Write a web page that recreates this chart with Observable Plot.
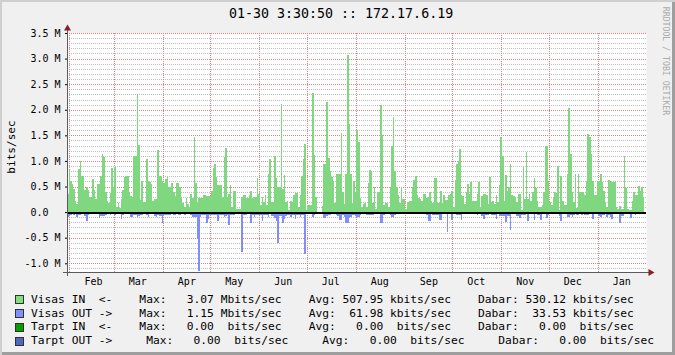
<!DOCTYPE html>
<html><head><meta charset="utf-8">
<script src="https://cdn.jsdelivr.net/npm/d3@7"></script>
<script src="https://cdn.jsdelivr.net/npm/@observablehq/plot@0.6"></script>
<style>
html,body{margin:0;padding:0;background:#F0F0F0;}
#wrap{position:relative;width:675px;height:355px;background:#F0F0F0;overflow:hidden;
  box-shadow: inset 2px 2px 0 #CFCFCF, inset -3px -3px 0 #9E9E9E;
  font-family:"DejaVu Sans Mono",monospace;color:#000;}
#wrap svg{position:absolute;left:0;top:0;}
.abs{position:absolute;white-space:pre;}
#title{left:229px;top:5.7px;font-size:13.3px;line-height:16px;}
#ylab{left:11.5px;top:147px;font-size:11.1px;line-height:14px;transform:translate(-50%,-50%) rotate(-90deg);}
#wm{left:666px;top:60.5px;font-size:8.2px;line-height:10px;color:#ABABAB;transform:translate(-50%,-50%) rotate(90deg);}
.row{position:absolute;left:0;height:14px;font-size:11.25px;line-height:14px;white-space:pre;}
.sw{position:absolute;left:15px;top:2.5px;width:7px;height:7px;border:1px solid #303030;}
.txt{position:absolute;left:31px;top:0;}
</style>
</head><body>
<div id="wrap">
  <div id="title" class="abs"></div>
  <div id="ylab" class="abs"></div>
  <div id="wm" class="abs"></div>
  <div id="legend"></div>
</div>
<script>
// ---- text ----
const titleText = "01-30 3:30:50 :: 172.17.6.19";
const yAxisLabel = "bits/sec";
const watermark = "RRDTOOL / TOBI OETIKER";

// ---- ticks ----
const monthStarts = ["2010-02-01","2010-03-01","2010-04-01","2010-05-01","2010-06-01","2010-07-01",
  "2010-08-01","2010-09-01","2010-10-01","2010-11-01","2010-12-01","2011-01-01"];
const monthLabels = ["Feb","Mar","Apr","May","Jun","Jul","Aug","Sep","Oct","Nov","Dec","Jan"];
const yMajor = [-1.0,-0.5,0,0.5,1.0,1.5,2.0,2.5,3.0,3.5];
const yMajorLabels = ["-1.0 M","-0.5 M","0.0\u00a0\u00a0","0.5 M","1.0 M","1.5 M","2.0 M","2.5 M","3.0 M","3.5 M"];

// ---- series (Mbits/sec, one value per day) ----
const visasIn = [
0.36,0.83,0.60,0.55,0.45,0.22,0.16,0.85,1.00,0.70,
0.70,0.44,0.50,0.44,0.30,0.30,0.64,0.43,0.25,0.55,
0.55,0.70,1.13,1.08,0.40,0.22,0.18,0.38,0.87,0.50,
0.88,0.10,0.18,0.08,0.25,0.44,0.68,0.70,0.70,0.40,
0.32,0.30,1.10,1.10,2.30,1.32,0.24,0.61,0.20,0.20,
1.03,0.60,0.58,0.55,0.22,0.25,0.25,1.22,0.70,0.70,
0.60,0.57,0.65,0.69,0.50,0.50,0.56,0.40,0.31,0.56,
0.56,0.50,0.30,0.17,0.10,0.27,0.15,0.10,0.35,0.27,
1.46,0.56,0.17,0.27,0.27,0.27,0.33,0.33,0.31,0.31,
0.31,0.42,0.87,0.95,0.68,0.53,0.53,0.53,0.30,1.08,
1.25,0.30,0.36,0.53,0.10,0.42,0.42,0.06,0.06,0.06,
0.30,0.33,0.33,0.27,0.27,0.33,0.42,0.27,0.30,0.30,
0.66,0.35,0.14,0.30,0.20,0.33,0.13,0.75,1.03,0.20,
0.20,1.10,0.66,0.50,0.50,2.12,0.46,0.72,0.20,0.22,
0.04,0.22,0.20,0.33,0.38,0.38,0.10,0.33,0.70,1.03,
1.34,0.04,0.13,0.13,0.13,2.33,1.12,0.30,0.00,0.00,
0.00,0.12,0.94,0.94,2.15,1.05,0.80,0.68,0.60,0.17,
0.75,0.74,0.74,1.54,0.39,0.16,0.74,3.07,1.73,0.74,
0.17,0.60,0.39,1.60,1.37,0.27,0.10,0.15,0.18,0.10,
0.57,0.83,0.80,0.18,0.50,0.06,0.40,0.40,2.10,1.50,
0.13,0.18,0.18,0.10,0.50,1.29,1.85,0.80,0.50,0.33,
0.17,0.50,0.26,0.26,0.06,0.20,0.21,0.21,0.50,0.62,
0.70,0.33,0.27,0.26,0.21,0.36,0.36,0.28,0.30,0.40,
0.21,0.18,0.66,0.66,0.17,0.17,0.42,0.17,0.33,0.23,
0.23,0.33,0.36,0.42,0.10,0.63,0.95,1.00,1.24,0.33,
0.31,0.15,0.40,0.55,0.35,0.58,0.21,0.21,0.21,0.35,
0.58,0.10,0.31,0.35,0.35,0.33,0.15,0.69,0.20,0.21,
0.16,0.33,0.20,0.53,1.46,1.09,0.21,0.72,0.42,0.50,
0.95,0.33,0.32,0.30,0.19,0.36,0.36,0.04,0.89,0.26,
1.17,0.26,0.36,0.21,0.40,0.66,0.48,0.21,0.10,0.10,
0.13,0.39,1.29,1.29,0.60,0.20,0.13,0.30,0.40,0.37,
0.90,0.04,0.70,0.21,0.13,0.13,0.74,2.03,1.13,0.40,
0.20,0.75,0.09,0.74,0.40,0.40,0.40,0.33,0.60,1.52,
1.46,1.13,0.61,0.33,0.33,0.60,0.60,0.74,0.59,0.42,
0.20,0.10,0.62,0.60,0.59,0.59,0.59,0.10,0.06,0.12,
0.06,0.06,1.09,0.47,0.06,0.04,0.04,0.21,0.40,0.33,
0.33,0.52,0.42,0.50,0.30];

const visasOut = [
0.09,0.08,0.05,0.04,0.06,0.03,0.09,0.06,0.06,0.04,
0.04,0.08,0.17,0.05,0.03,0.04,0.03,0.03,0.03,0.03,
0.12,0.07,0.08,0.08,0.05,0.03,0.03,0.06,0.04,0.04,
0.06,0.03,0.03,0.03,0.14,0.05,0.03,0.03,0.03,0.03,
0.09,0.09,0.05,0.05,0.09,0.08,0.05,0.05,0.03,0.03,
0.06,0.09,0.04,0.04,0.04,0.08,0.09,0.06,0.08,0.08,
0.21,0.06,0.05,0.05,0.05,0.05,0.03,0.05,0.05,0.03,
0.05,0.05,0.03,0.03,0.065,0.03,0.03,0.03,0.065,0.09,
0.09,0.09,0.52,1.15,0.09,0.05,0.05,0.05,0.22,0.13,
0.065,0.05,0.05,0.065,0.065,0.18,0.05,0.065,0.065,0.09,
0.08,0.05,0.25,0.05,0.05,0.05,0.03,0.03,0.03,0.03,
0.78,0.065,0.05,0.05,0.03,0.03,0.21,0.05,0.09,0.05,
0.05,0.05,0.05,0.17,0.065,0.05,0.05,0.09,0.04,0.08,
0.08,0.12,0.18,0.61,0.08,0.08,0.22,0.14,0.08,0.05,
0.05,0.09,0.05,0.05,0.14,0.05,0.05,0.09,0.05,0.05,
0.81,0.03,0.03,0.03,0.03,0.09,0.05,0.03,0.01,0.01,
0.01,0.02,0.12,0.12,0.08,0.05,0.05,0.03,0.03,0.03,
0.05,0.08,0.16,0.16,0.05,0.09,0.21,0.21,0.12,0.09,
0.05,0.05,0.08,0.10,0.10,0.06,0.03,0.03,0.03,0.05,
0.06,0.05,0.05,0.05,0.03,0.03,0.03,0.03,0.21,0.21,
0.05,0.03,0.03,0.03,0.06,0.09,0.09,0.06,0.03,0.03,
0.03,0.03,0.03,0.03,0.03,0.04,0.03,0.03,0.03,0.03,
0.03,0.03,0.03,0.03,0.03,0.03,0.03,0.06,0.17,0.17,
0.03,0.06,0.05,0.05,0.05,0.16,0.16,0.03,0.03,0.03,
0.39,0.03,0.03,0.16,0.03,0.03,0.05,0.05,0.05,0.16,
0.03,0.03,0.03,0.03,0.03,0.03,0.03,0.03,0.03,0.05,
0.03,0.03,0.08,0.13,0.05,0.05,0.05,0.03,0.05,0.05,
0.05,0.13,0.03,0.08,0.08,0.08,0.08,0.20,0.08,0.08,
0.35,0.03,0.03,0.03,0.08,0.08,0.12,0.05,0.05,0.05,
0.03,0.17,0.03,0.03,0.03,0.16,0.03,0.065,0.065,0.16,
0.03,0.03,0.03,0.12,0.05,0.03,0.03,0.03,0.03,0.03,
0.03,0.08,0.17,0.03,0.03,0.03,0.10,0.10,0.05,0.09,
0.05,0.03,0.05,0.05,0.03,0.05,0.03,0.06,0.06,0.06,
0.03,0.03,0.13,0.03,0.03,0.03,0.08,0.10,0.05,0.05,
0.03,0.09,0.05,0.09,0.13,0.03,0.03,0.03,0.03,0.21,
0.08,0.08,0.03,0.03,0.03,0.03,0.12,0.03,0.03,0.05,
0.04,0.03,0.03,0.03,0.03];

// ---- legend ----
const legendNames = ["Visas IN  <-", "Visas OUT ->", "Tarpt IN  <-", "Tarpt OUT ->"];
const legendColors = ["#80E080", "#8090FF", "#00A000", "#5068C0"];
const legendMax = ["   3.07 Mbits/sec", "   1.15 Mbits/sec", "   0.00  bits/sec", "   0.00  bits/sec"];
const legendAvg = [" 507.95 kbits/sec", "  61.98 kbits/sec", "   0.00  bits/sec", "   0.00  bits/sec"];
const legendCur = [" 530.12 kbits/sec", "  33.53 kbits/sec", "   0.00  bits/sec", "   0.00  bits/sec"];
const legendGap = ["    ", "    ", "    ", "     "];

// ---- build ----
document.getElementById("title").textContent = titleText;
document.getElementById("ylab").textContent = yAxisLabel;
document.getElementById("wm").textContent = watermark;

const DAY = 864e5;
const start = Date.UTC(2010, 0, 30, 12, 36);
const domainEnd = start + 366.06 * DAY;
const yDomain = [-1.17, 3.5];

const inData = visasIn.map((v, i) => ({t0: new Date(start + i * DAY), t1: new Date(start + (i + 1) * DAY), v}));
const outData = visasOut.map((v, i) => ({t0: new Date(start + i * DAY), t1: new Date(start + (i + 1) * DAY), v: -v}));
const monthDates = monthStarts.map(s => new Date(s + "T00:00:00Z"));
const labelDates = monthDates.map(d => new Date(+d + 15 * DAY));
const yMinor = d3.range(-11, 36).map(i => i / 10);

const chart = Plot.plot({
  width: 675, height: 290,
  marginLeft: 67, marginRight: 29, marginTop: 33, marginBottom: 18,
  style: {background: "transparent", fontFamily: "'DejaVu Sans Mono', monospace", fontSize: "10px", color: "#000"},
  x: {type: "utc", domain: [new Date(start), new Date(domainEnd)], ticks: labelDates,
      tickFormat: d => monthLabels[labelDates.findIndex(t => +t === +d)], tickSize: 0, tickPadding: 5, label: null},
  y: {domain: yDomain, ticks: yMajor,
      tickFormat: d => yMajorLabels[yMajor.findIndex(t => Math.abs(t - d) < 1e-9)], tickSize: 2, tickPadding: 5, label: null},
  marks: [
    Plot.frame({fill: "white", stroke: "none"}),
    Plot.ruleY(yMinor, {stroke: "#BDBDBD", strokeDasharray: "1,1", shapeRendering: "crispEdges"}),
    Plot.ruleY(yMajor, {stroke: "#E48080", strokeDasharray: "1,1", shapeRendering: "crispEdges"}),
    Plot.ruleX(monthDates, {stroke: "#E48080", strokeDasharray: "1,1", shapeRendering: "crispEdges"}),
    Plot.rect(inData, {x1: "t0", x2: "t1", y1: 0, y2: "v", fill: "#7FD87F", shapeRendering: "crispEdges"}),
    Plot.rect(outData, {x1: "t0", x2: "t1", y1: 0, y2: "v", fill: "#7F8EFA", shapeRendering: "crispEdges"}),
    Plot.ruleY([0], {stroke: "#000", strokeWidth: 2, shapeRendering: "crispEdges"}),
    Plot.ruleY([yDomain[0]], {stroke: "#5A5A5A", insetLeft: -4, insetRight: -3, shapeRendering: "crispEdges"}),
    Plot.ruleX([new Date(start)], {stroke: "#5A5A5A", insetTop: -5, insetBottom: -4, shapeRendering: "crispEdges"}),
    Plot.dot([0], {x: () => new Date(domainEnd), y: () => yDomain[0], symbol: "triangle", r: 2.6, fill: "#8B1F1F", stroke: "none", rotate: 90, dx: 4}),
    Plot.dot([0], {x: () => new Date(start), y: () => yDomain[1], symbol: "triangle", r: 2.6, fill: "#8B1F1F", stroke: "none", dy: -5})
  ]
});
document.getElementById("wrap").insertBefore(chart, document.getElementById("title"));

const legend = document.getElementById("legend");
const rowTops = [292.5, 306.5, 320.4, 334.2];
legendNames.forEach((name, i) => {
  const row = document.createElement("div");
  row.className = "row";
  row.style.top = rowTops[i] + "px";
  row.style.width = "675px";
  const sw = document.createElement("div");
  sw.className = "sw";
  sw.style.background = legendColors[i];
  const tx = document.createElement("div");
  tx.className = "txt";
  const g = legendGap[i];
  tx.textContent = name + g + "Max:" + legendMax[i] + g + "Avg:" + legendAvg[i] + g + "Dabar:" + legendCur[i];
  row.appendChild(sw); row.appendChild(tx);
  legend.appendChild(row);
});
</script>
</body></html>
